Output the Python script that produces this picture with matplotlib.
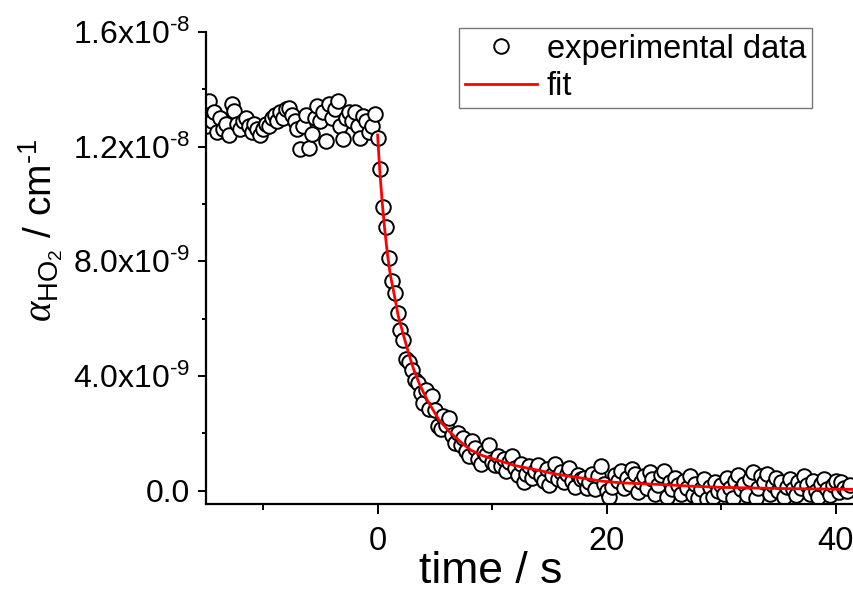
import numpy as np
import matplotlib
matplotlib.use("Agg")
import matplotlib.pyplot as plt
from matplotlib.ticker import MultipleLocator

# sampling of the measurement (s)
t_start = -15.0
dt = 0.25

# measured alpha_HO2 in units of 1e-9 cm^-1, one row = 2 s
alpha_pre = [
    12.7, 13.6, 12.9, 13.2, 12.5, 13.0, 12.6, 12.8,     # -15 .. -13.25
    12.4, 13.5, 13.25, 12.8, 12.6, 12.9, 13.0, 12.7,    # -13 .. -11.25
    12.5, 12.8, 12.6, 12.4, 12.6, 12.8, 12.7, 13.0,     # -11 .. -9.25
    13.1, 12.9, 13.2, 13.0, 13.3, 13.35, 13.1, 12.9,    # -9 .. -7.25
    12.6, 11.9, 12.7, 13.1, 11.95, 12.45, 13.0, 13.4,   # -7 .. -5.25
    12.9, 13.2, 12.2, 13.5, 13.0, 13.3, 13.6, 12.7,     # -5 .. -3.25
    12.25, 13.0, 13.2, 12.9, 13.2, 12.7, 12.3, 13.05,   # -3 .. -1.25
    12.9, 12.5, 12.7, 13.15,                            # -1 .. -0.25
]
alpha_post = [
    12.3, 11.2, 9.9, 9.2, 8.1, 7.3, 6.9, 6.2,           # 0 .. 1.75
    5.6, 5.25, 4.6, 4.5, 4.2, 3.85, 3.75, 3.4,          # 2 .. 3.75
    3.05, 3.5, 2.85, 3.3, 2.8, 2.25, 2.15, 2.6,         # 4 .. 5.75
    2.3, 2.55, 1.95, 1.65, 2.0, 1.6, 1.85, 1.4,         # 6 .. 7.75
    1.2, 1.75, 1.5, 1.1, 0.95, 1.35, 1.25, 1.6,         # 8 .. 9.75
    1.0, 0.9, 1.2, 0.85, 1.1, 0.7, 1.0, 1.2,            # 10 .. 11.75
    0.8, 0.55, 0.95, 0.3, 0.6, 0.85, 0.45, 0.7,         # 12 .. 13.75
    0.9, 0.5, 0.35, 0.75, 0.2, 0.55, 0.95, 0.4,         # 14 .. 15.75
    0.65, 0.3, 0.6, 0.8, 0.35, 0.15, 0.55, 0.4,         # 16 .. 17.75
    0.45, 0.1, 0.3, 0.6, 0.05, 0.5, 0.85, 0.25,         # 18 .. 19.75
    0.0, -0.2, 0.15, 0.55, 0.35, 0.7, 0.1, 0.45,        # 20 .. 21.75
    0.25, 0.75, 0.6, -0.05, 0.3, 0.5, 0.1, 0.65,        # 22 .. 23.75
    0.4, -0.1, 0.2, 0.55, 0.7, -0.2, 0.3, 0.05,         # 24 .. 25.75
    0.45, 0.2, -0.1, 0.35, 0.1, 0.5, -0.15, 0.25,       # 26 .. 27.75
    -0.25, 0.05, 0.4, -0.3, 0.15, -0.2, 0.3, 0.0,       # 28 .. 29.75
    0.2, -0.1, 0.45, 0.1, -0.25, 0.35, 0.55, 0.05,      # 30 .. 31.75
    0.25, -0.15, 0.4, 0.65, -0.25, 0.1, 0.5, 0.3,       # 32 .. 33.75
    0.6, -0.1, 0.2, 0.45, 0.0, 0.3, -0.2, 0.15,         # 34 .. 35.75
    0.4, 0.05, -0.15, 0.3, 0.1, 0.5, 0.2, -0.1,         # 36 .. 37.75
    0.35, 0.0, -0.2, 0.25, 0.4, 0.05, -0.15, 0.2,       # 38 .. 39.75
    0.35, -0.05, 0.3, 0.1, 0.0, 0.2,                    # 40 .. 41.25
]

# fit curve (s, 1e-9 cm^-1)
fit_t = [0.0, 0.2, 0.41, 0.6, 0.85, 1.1, 1.43, 1.8, 2.3, 2.7, 3.17, 3.7, 4.34,
         5.36, 6.3, 7.2, 8.12, 9.2, 10.45, 12.0, 13.95, 15.6, 17.4, 19.5, 21.2,
         24.7, 27.5, 30.0, 35.2, 41.6]
fit_y = [12.4, 11.1, 10.02, 9.2, 8.28, 7.55, 6.88, 6.1, 5.37, 4.8, 4.21, 3.68, 3.16,
         2.47, 2.05, 1.72, 1.42, 1.22, 1.07, 0.88, 0.72, 0.58, 0.47, 0.34, 0.28,
         0.22, 0.16, 0.12, 0.08, 0.05]

ytick_vals = [0.0, 4e-9, 8e-9, 1.2e-8, 1.6e-8]
ytick_labels = ["0.0", r"4.0x10$^{\text{-9}}$", r"8.0x10$^{\text{-9}}$",
                r"1.2x10$^{\text{-8}}$", r"1.6x10$^{\text{-8}}$"]
xtick_vals = [0, 20, 40]

alpha = np.array(alpha_pre + alpha_post) * 1e-9
time = t_start + dt * np.arange(len(alpha))

plt.rcParams['font.family'] = ['Liberation Sans', 'DejaVu Sans']
plt.rcParams['mathtext.fontset'] = 'custom'
plt.rcParams['mathtext.rm'] = 'Liberation Sans'
plt.rcParams['mathtext.it'] = 'Liberation Serif:italic'
plt.rcParams['mathtext.default'] = 'regular'
plt.rcParams['axes.unicode_minus'] = False

fig = plt.figure(figsize=(8.54, 5.94), dpi=100)
ax = fig.add_axes([0.241, 0.1515, 0.759, 0.795])

ax.plot(time, alpha, 'o', ms=10.5, mfc='white', mec='black', mew=1.4,
        label='experimental data', zorder=2)
ax.plot(fit_t, np.array(fit_y) * 1e-9, color='red', lw=2, label='fit', zorder=3)

ax.set_xlim(-15, 41.6)
ax.set_ylim(-0.46e-9, 1.6e-8)

ax.spines['top'].set_visible(False)
ax.spines['right'].set_visible(False)
for s in ['left', 'bottom']:
    ax.spines[s].set_linewidth(1.6)

ax.set_xticks(xtick_vals)
ax.xaxis.set_minor_locator(MultipleLocator(10))
ax.set_yticks(ytick_vals, ytick_labels)
ax.yaxis.set_minor_locator(MultipleLocator(2e-9))
ax.tick_params(axis='x', which='major', length=7, width=1.4, labelsize=23.5, pad=9)
ax.tick_params(axis='x', which='minor', length=4, width=1.4)
ax.tick_params(axis='y', which='major', length=5.5, width=1.4, labelsize=23, pad=6)
ax.tick_params(axis='y', which='minor', length=3, width=1.4)

ax.set_xlabel('time / s', fontsize=32)
ax.xaxis.set_label_coords(0.44, -0.1)
ax.set_ylabel(r'$\mathit{\alpha}_{HO_2}$ / cm$^{\text{-1}}$', fontsize=28)
ax.yaxis.set_label_coords(-0.218, 0.58)

leg = ax.legend(loc='upper right', bbox_to_anchor=(0.935, 1.008), fontsize=23.5,
                frameon=True, fancybox=False, edgecolor='#555555',
                handlelength=2.2, handletextpad=0.3, borderpad=0.18,
                labelspacing=0.2, borderaxespad=0)
leg.get_frame().set_linewidth(1.0)

fig.savefig('out.png', dpi=100)
